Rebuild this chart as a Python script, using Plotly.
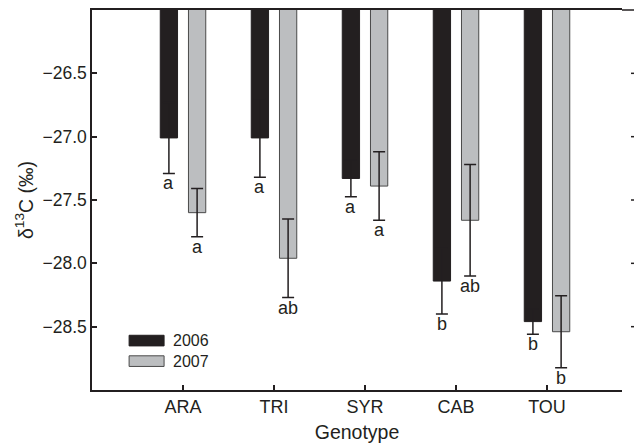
import plotly.graph_objects as go

genotypes = ["ARA", "TRI", "SYR", "CAB", "TOU"]
years = ["2006", "2007"]
d13c_2006 = [-27.01, -27.01, -27.33, -28.14, -28.46]
err_2006 = [0.28, 0.31, 0.145, 0.26, 0.10]
d13c_2007 = [-27.60, -27.96, -27.39, -27.66, -28.54]
err_2007 = [0.19, 0.31, 0.27, 0.44, 0.285]
letters_2006 = ["a", "a", "a", "b", "b"]
letters_2007 = ["a", "ab", "a", "ab", "b"]
y_ticks = [-26.5, -27.0, -27.5, -28.0, -28.5]

FONT = "Liberation Sans, Arial, sans-serif"
BLACK = "#231f20"
GRAY = "#bcbec0"
xpos = list(range(len(genotypes)))
X_RANGE = [-1, 4.824]
BW = 0.19
OFF = [-0.25, 0.06]
R_MARGIN = 12
PLOT_W = 634 - 92 - R_MARGIN

fig = go.Figure()
series = [(d13c_2006, err_2006, BLACK, BLACK, letters_2006),
          (d13c_2007, err_2007, GRAY, "#4a4a4a", letters_2007)]
for k, (vals, errs, col, lcol, lets) in enumerate(series):
    fig.add_trace(go.Bar(
        x=xpos, y=vals, name=years[k], width=BW, offset=OFF[k],
        marker=dict(color=col, line=dict(color=lcol, width=1)),
        error_y=dict(type="data", array=errs, visible=True, color=BLACK,
                     thickness=1.5, width=6),
        showlegend=False,
    ))
    for i, (v, e, t) in enumerate(zip(vals, errs, lets)):
        fig.add_annotation(x=xpos[i] + OFF[k] + BW / 2, y=v - e, text=t,
                           showarrow=False, yanchor="top", yshift=2,
                           font=dict(family=FONT, size=18, color=BLACK))

# frame continues past the right edge of the picture (cropped in the original)
fig.add_shape(type="line", xref="paper", yref="paper", x0=1, x1=1 + (R_MARGIN + 4) / PLOT_W,
              y0=1, y1=1, line=dict(color=BLACK, width=1.5))
for t in y_ticks:
    fig.add_shape(type="line", xref="paper", yref="y",
                  x0=1 + 9 / PLOT_W, x1=1 + (R_MARGIN + 4) / PLOT_W, y0=t, y1=t,
                  line=dict(color=BLACK, width=1.5))

# legend drawn as wide swatches
leg_y = [0.13, 0.076]
for k, col in enumerate([BLACK, GRAY]):
    fig.add_shape(type="rect", xref="paper", yref="paper",
                  x0=0.07, x1=0.136, y0=leg_y[k] - 0.014, y1=leg_y[k] + 0.014,
                  fillcolor=col, line=dict(color="#4a4a4a" if k else BLACK, width=1))
    fig.add_annotation(xref="paper", yref="paper", x=0.149, y=leg_y[k],
                       text=years[k], showarrow=False, xanchor="left", yanchor="middle",
                       font=dict(family=FONT, size=16, color=BLACK))

fig.update_layout(
    width=634, height=448,
    margin=dict(l=92, r=R_MARGIN, t=8, b=58),
    paper_bgcolor="white", plot_bgcolor="white",
    barmode="overlay",
    font=dict(family=FONT, size=17, color=BLACK),
    xaxis=dict(range=X_RANGE, tickvals=xpos, ticktext=genotypes,
               ticks="inside", ticklen=5, tickwidth=1.5, tickcolor=BLACK,
               showline=True, linecolor=BLACK, linewidth=1.5, mirror=True,
               showgrid=False, zeroline=False, tickfont=dict(size=18),
               title=dict(text="Genotype", standoff=9, font=dict(size=19.5))),
    yaxis=dict(range=[-29, -26], tickvals=y_ticks, tickformat=".1f",
               ticks="inside", ticklen=5, tickwidth=1.5, tickcolor=BLACK,
               showline=True, linecolor=BLACK, linewidth=1.5,
               showgrid=False, zeroline=False, tickfont=dict(size=17.5),
               title=dict(text="δ<sup>13</sup>C (‰)", standoff=4, font=dict(size=19.5))),
)
fig.write_html("out.html")
